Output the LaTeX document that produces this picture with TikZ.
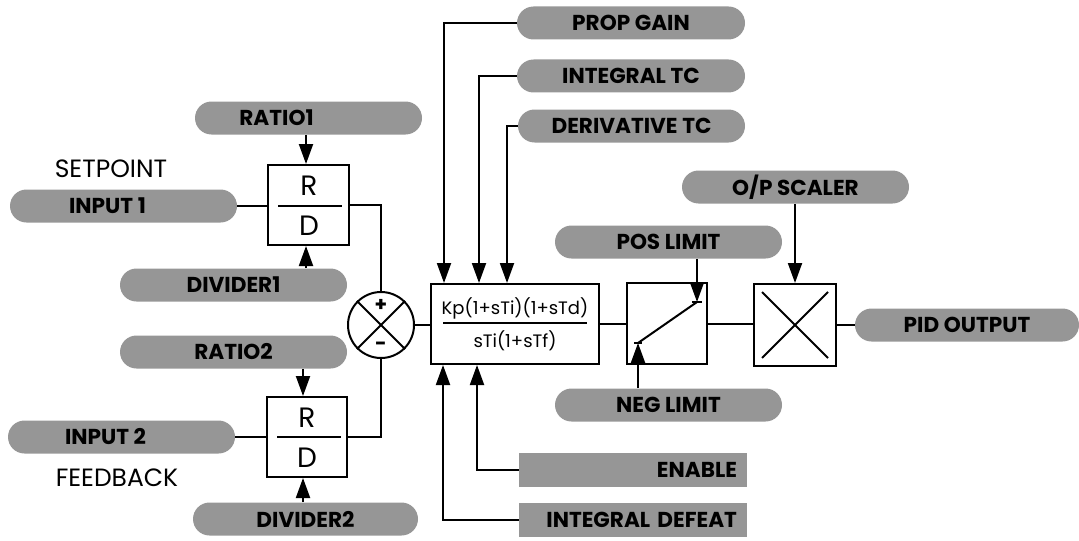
\documentclass[tikz,border=0pt]{standalone}
\usepackage{fontspec}
\usetikzlibrary{arrows.meta,shapes.misc}
\newfontfamily\fut{Poppins}
\definecolor{tagfill}{RGB}{150,150,150}
\tikzset{
  ptag/.style={rounded rectangle, rounded rectangle arc length=180, fill=tagfill, draw=none,
    minimum width=#1*0.5pt, minimum height=16.5pt, inner sep=0pt,
    font=\fut\bfseries\fontsize{10.8}{12}\selectfont},
  rtag/.style={rectangle, fill=tagfill, draw=none, minimum width=114pt, minimum height=17pt,
    inner xsep=5pt, inner ysep=0pt, text width=104pt, align=right,
    font=\fut\bfseries\fontsize{10.8}{12}\selectfont},
  blk/.style={draw, line width=1pt, rectangle, inner sep=0pt},
  wire/.style={line width=1pt},
  arr/.style={line width=1pt, -{Triangle[length=10pt,width=7pt]}},
  lbl/.style={font=\fut\fontsize{12.5}{14}\selectfont, inner sep=0pt},
  rd/.style={font=\fut\fontsize{14}{16}\selectfont, inner sep=0pt}
}
\begin{document}
\begin{tikzpicture}[x=0.5pt,y=-0.5pt]
\useasboundingbox (0,0) rectangle (1079,540);
% tags
\node[ptag=228] (pg) at (631,23) {PROP GAIN};
\node[ptag=228] (itc) at (631,76) {INTEGRAL TC};
\node[ptag=227] (dtc) at (631.5,126) {DERIVATIVE TC};
\node[ptag=227] (ops) at (795.5,187) {O/P SCALER};
\node[ptag=227] (pos) at (668.5,242) {POS LIMIT};
\node[ptag=227] (neg) at (668.5,405) {NEG LIMIT};
\node[ptag=224] (out) at (967,325) {PID OUTPUT};
\node[ptag=227] (r1) at (308.5,118) {\hspace*{-32pt}RATIO1};
\node[ptag=227] (in1) at (123.5,206) {\hspace*{-16pt}INPUT 1};
\node[ptag=227] (d1) at (233.5,285) {DIVIDER1};
\node[ptag=227] (r2) at (233.5,352) {RATIO2};
\node[ptag=227] (in2) at (121.5,437) {\hspace*{-16pt}INPUT 2};
\node[ptag=225] (d2) at (305.5,519) {DIVIDER2};
\node[rtag] (en) at (633,470) {ENABLE};
\node[rtag] (idf) at (633,520) {INTEGRAL DEFEAT};
% labels
\node[lbl] (sp) at (111,169) {SETPOINT};
\node[lbl] (fb) at (117,478) {FEEDBACK};
% R/D boxes
\node[blk, minimum width=40.5pt, minimum height=40pt] (rd1) at (308.5,205) {};
\node[rd] (rr1) at (309,186) {R};
\node[rd] (dd1) at (309,226) {D};
\draw[wire] (278,206) -- (342,206);
\node[blk, minimum width=40pt, minimum height=40pt] (rd2) at (307,437) {};
\node[rd] (rr2) at (307,418) {R};
\node[rd] (dd2) at (307,458) {D};
\draw[wire] (277,437) -- (341,437);
% summing junction
\node[draw, circle, line width=1pt, minimum size=33pt, inner sep=0pt] (sum) at (381,325) {};
\draw[wire] (sum.north west) -- (sum.south east) (sum.north east) -- (sum.south west);
\node[font=\fut\bfseries\fontsize{10}{11}\selectfont, inner sep=0pt] (plus) at (381,305) {+};
\node[font=\fut\bfseries\fontsize{10}{11}\selectfont, inner sep=0pt] (minus) at (381,346) {-};
% PID box
\node[blk, minimum width=84pt, minimum height=40pt] (pid) at (515,324) {};
\node[font=\fut\fontsize{9}{10}\selectfont, inner sep=0pt] (num) at (515,308) {Kp(1+sTi)(1+sTd)};
\node[font=\fut\fontsize{9}{10}\selectfont, inner sep=0pt] (den) at (515,341) {sTi(1+sTf)};
\draw[wire] (443,323) -- (587,323);
% limit box
\node[blk, minimum width=40pt, minimum height=40.5pt] (lim) at (667,323.5) {};
\coordinate (lo) at (638,343);
\coordinate (hi) at (697,302);
\draw[wire] (lo) -- (hi);
\draw[wire] (692,302) -- (702,302);
\draw[wire] (634,343) -- (642,343);
% multiplier
\node[blk, minimum width=41pt, minimum height=41pt] (mul) at (795,325) {};
\draw[wire] (762,292) -- (828,358) (828,292) -- (762,358);
% connectors
\draw[wire] (in1.east) -- (rd1.west |- in1.east);
\draw[arr] (r1.south -| 306,0) -- (rd1.north -| 306,0);
\draw[arr] (d1.north -| 306,0) -- (rd1.south -| 306,0);
\draw[wire] (rd1.east) -| (sum.north);
\draw[wire] (in2.east) -- (rd2.west |- in2.east);
\draw[arr] (r2.south -| 303,0) -- (rd2.north -| 303,0);
\draw[arr] (d2.north -| 303,0) -- (rd2.south -| 303,0);
\draw[wire] (rd2.east) -| (sum.south);
\draw[wire] (sum.east) -- (pid.west |- sum.east);
\draw[arr] (pg.west) -| (pid.north -| 444,0);
\draw[arr] (itc.west) -| (pid.north -| 479,0);
\draw[arr] (dtc.west) -| (pid.north -| 507,0);
\draw[arr] (en.west) -| (pid.south -| 477,0);
\draw[arr] (idf.west) -| (pid.south -| 443,0);
\draw[wire] (pid.east |- lim.west) -- (lim.west);
\draw[wire] (lim.east) -- (mul.west |- lim.east);
\draw[arr] (pos.south -| hi) -- (hi);
\draw[arr] (neg.north -| lo) -- (lo);
\draw[arr] (ops.south -| mul.north) -- (mul.north);
\draw[wire] (mul.east) -- (out.west);
\end{tikzpicture}
\end{document}
